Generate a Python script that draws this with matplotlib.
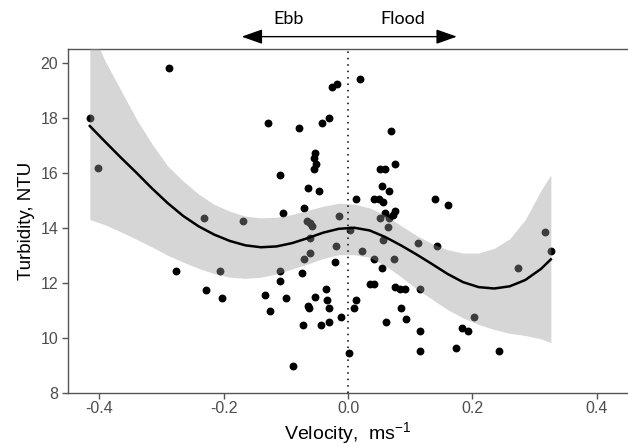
import numpy as np
import matplotlib
matplotlib.use('Agg')
import matplotlib.pyplot as plt

# observed velocity (m/s) and turbidity (NTU)
velocity = [-0.415, -0.402, -0.288, -0.277, -0.232, -0.228, -0.206, -0.203, -0.168, -0.133,
            -0.128, -0.126, -0.109, -0.109, -0.109, -0.105, -0.099, -0.088, -0.078, -0.074,
            -0.073, -0.070, -0.070, -0.066, -0.065, -0.064, -0.062, -0.061, -0.058, -0.061,
            -0.061, -0.053, -0.055, -0.051, -0.054, -0.053, -0.047, -0.044, -0.042, -0.035,
            -0.033, -0.031, -0.030, -0.030, -0.026, -0.021, -0.019, -0.018, -0.014, -0.011,
            0.002, 0.003, 0.010, 0.013, 0.013, 0.020, 0.022, 0.035, 0.041, 0.041,
            0.042, 0.050, 0.051, 0.051, 0.054, 0.054, 0.057, 0.057, 0.059, 0.059,
            0.061, 0.064, 0.066, 0.066, 0.069, 0.072, 0.074, 0.076, 0.076, 0.076,
            0.084, 0.085, 0.092, 0.094, 0.112, 0.115, 0.116, 0.116, 0.140, 0.143,
            0.160, 0.173, 0.183, 0.193, 0.203, 0.242, 0.273, 0.316, 0.326]
turbidity = [17.98, 16.16, 19.81, 12.44, 14.34, 11.73, 12.44, 11.45, 14.24, 11.54,
             17.82, 10.96, 15.93, 12.44, 12.05, 14.53, 11.45, 8.98, 17.63, 12.36,
             10.46, 14.73, 12.86, 14.24, 15.43, 11.15, 11.07, 14.16, 14.06, 13.64,
             13.07, 16.73, 16.53, 16.31, 16.12, 11.47, 15.33, 10.46, 17.82, 11.76,
             11.37, 18.00, 11.07, 10.56, 19.11, 12.74, 13.33, 19.21, 14.44, 10.76,
             9.43, 13.92, 11.07, 15.03, 11.37, 19.40, 13.15, 11.95, 11.95, 15.03,
             12.85, 15.03, 16.13, 14.34, 15.53, 12.55, 14.92, 13.55, 16.13, 14.55,
             10.56, 14.04, 15.33, 14.34, 17.53, 14.46, 12.85, 16.32, 14.62, 11.85,
             11.76, 11.07, 11.76, 10.67, 13.45, 11.76, 10.25, 9.53, 15.03, 13.35,
             14.83, 9.61, 10.36, 10.25, 10.76, 9.52, 12.55, 13.83, 13.15]

# smoothed fit and its confidence band
fit_x = [-0.415, -0.39, -0.365, -0.34, -0.315, -0.29, -0.265, -0.24, -0.215, -0.19,
         -0.165, -0.14, -0.115, -0.09, -0.065, -0.04, -0.015, 0.01, 0.035, 0.06,
         0.085, 0.11, 0.135, 0.16, 0.185, 0.21, 0.235, 0.26, 0.285, 0.31, 0.326]
fit_y = [17.70, 17.12, 16.55, 16.00, 15.43, 14.90, 14.43, 14.05, 13.75, 13.52,
         13.36, 13.29, 13.32, 13.44, 13.62, 13.82, 13.96, 14.00, 13.90, 13.66,
         13.36, 13.03, 12.68, 12.32, 12.02, 11.84, 11.79, 11.87, 12.10, 12.50, 12.85]
fit_lo = [14.30, 14.10, 13.85, 13.58, 13.30, 13.00, 12.75, 12.52, 12.33, 12.20,
          12.16, 12.20, 12.32, 12.50, 12.68, 12.88, 13.02, 13.02, 12.92, 12.62,
          12.22, 11.78, 11.40, 11.02, 10.72, 10.48, 10.30, 10.16, 10.08, 9.96, 9.82]
fit_hi = [21.30, 20.05, 19.00, 17.95, 17.05, 16.25, 15.70, 15.22, 14.85, 14.60,
          14.42, 14.36, 14.38, 14.48, 14.63, 14.78, 14.89, 14.86, 14.72, 14.45,
          14.08, 13.72, 13.42, 13.20, 13.08, 13.08, 13.25, 13.60, 14.30, 15.35, 15.92]

x_ticks = [-0.4, -0.2, 0.0, 0.2, 0.4]
y_ticks = [8, 10, 12, 14, 16, 18, 20]

plt.rcParams['font.family'] = ['Liberation Sans', 'DejaVu Sans']
plt.rcParams['mathtext.default'] = 'regular'

fig = plt.figure(figsize=(6.28, 4.46), dpi=100)
ax = fig.add_axes([0.1083, 0.1195, 0.8917, 0.7706])

# points first, then the grey band on top so covered points look grey
ax.scatter(velocity, turbidity, s=32, color='black', linewidths=0, zorder=2)
ax.fill_between(fit_x, fit_lo, fit_hi, color='#999999', alpha=0.4, linewidth=0, zorder=3)
ax.plot(fit_x, fit_y, color='black', lw=1.8, zorder=4)
ax.axvline(0, color='black', lw=1.1, linestyle=(0, (1, 3.2)), zorder=5)

ax.set_xlim(-0.45, 0.45)
ax.set_ylim(8, 20.5)
ax.set_xticks(x_ticks)
ax.set_xticklabels([f'{t:.1f}' for t in x_ticks])
ax.set_yticks(y_ticks)

for side in ['left', 'bottom', 'top']:
    ax.spines[side].set_color('#555555')
    ax.spines[side].set_linewidth(1.0)
ax.spines['right'].set_visible(False)

ax.tick_params(axis='both', colors='#555555', labelcolor='#4d4d4d', labelsize=11.5,
               length=4, width=1.0)
ax.tick_params(axis='x', pad=2)
ax.tick_params(axis='y', pad=3)

ax.set_xlabel('Velocity,  ms$^{-1}$', fontsize=14, labelpad=3)
ax.set_ylabel('Turbidity, NTU', fontsize=13.5, labelpad=4)

# ebb / flood direction arrow above the plot
ax.annotate('', xy=(-0.171, 20.95), xytext=(0.175, 20.95), annotation_clip=False,
            arrowprops=dict(arrowstyle='<|-|>,head_length=0.85,head_width=0.3',
                            color='black', lw=1.0, mutation_scale=15,
                            shrinkA=0, shrinkB=0))
ax.text(-0.096, 21.6, 'Ebb', ha='center', va='center', fontsize=13, family='Lato',
        clip_on=False)
ax.text(0.088, 21.6, 'Flood', ha='center', va='center', fontsize=13, family='Lato',
        clip_on=False)

fig.savefig('out.png', dpi=100)
